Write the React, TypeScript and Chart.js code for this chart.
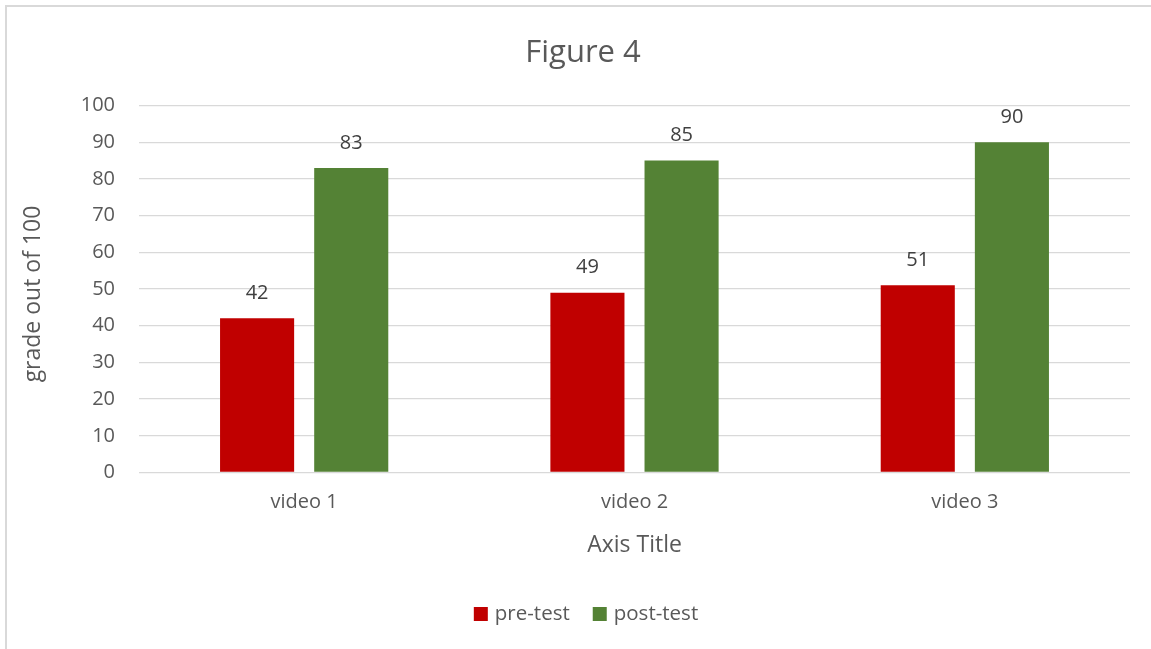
import React, { useEffect, useRef } from "react";
import { Chart, registerables } from "chart.js";

Chart.register(...registerables);

const chartTitle = "Figure 4";
const categories = ["video 1", "video 2", "video 3"];
const seriesNames = ["pre-test", "post-test"];
const preTest = [42, 49, 51];
const postTest = [83, 85, 90];
const seriesColors = ["#C00000", "#548235"];
const yAxisTitle = "grade out of 100";
const xAxisTitle = "Axis Title";
const yMin = 0;
const yMax = 100;
const yStep = 10;

const FONT = "'Open Sans', sans-serif";
const TEXT = "#595959";

const overlayPlugin = {
  id: "overlay",
  afterDraw(chart: any) {
    const ctx = chart.ctx as CanvasRenderingContext2D;
    const area = chart.chartArea;
    ctx.save();
    // data labels
    ctx.font = `20px ${FONT}`;
    ctx.fillStyle = "#404040";
    ctx.textAlign = "center";
    ctx.textBaseline = "middle";
    chart.data.datasets.forEach((ds: any, di: number) => {
      const meta = chart.getDatasetMeta(di);
      meta.data.forEach((bar: any, i: number) => {
        ctx.fillText(String(ds.data[i]), bar.x, bar.y - 25);
      });
    });
    // title
    ctx.fillStyle = TEXT;
    ctx.font = `31px ${FONT}`;
    ctx.textBaseline = "alphabetic";
    ctx.fillText(chartTitle, 583, 62);
    // x axis title
    ctx.font = `23px ${FONT}`;
    ctx.fillText(xAxisTitle, (area.left + area.right) / 2, 551.5);
    // y axis title
    ctx.save();
    ctx.translate(33, (area.top + area.bottom) / 2 + 5);
    ctx.rotate(-Math.PI / 2);
    ctx.textBaseline = "middle";
    ctx.fillText(yAxisTitle, 0, 0);
    ctx.restore();
    // legend
    ctx.font = `20.5px ${FONT}`;
    ctx.textAlign = "left";
    ctx.textBaseline = "middle";
    const box = 14;
    const gapBoxText = 7;
    const gapItems = 23;
    const widths = chart.data.datasets.map((ds: any) => ctx.measureText(ds.label).width);
    let total = 0;
    widths.forEach((w: number, i: number) => {
      total += box + gapBoxText + w + (i < widths.length - 1 ? gapItems : 0);
    });
    let x = 586 - total / 2;
    const cy = 614;
    chart.data.datasets.forEach((ds: any, i: number) => {
      ctx.fillStyle = ds.backgroundColor;
      ctx.fillRect(x, cy - box / 2, box, box);
      x += box + gapBoxText;
      ctx.fillStyle = TEXT;
      ctx.fillText(ds.label, x, cy);
      x += widths[i] + gapItems;
    });
    ctx.restore();
  },
};

export default function App() {
  const ref = useRef<HTMLCanvasElement | null>(null);
  useEffect(() => {
    if (!ref.current) return;
    const chart = new Chart(ref.current, {
      type: "bar",
      data: {
        labels: categories,
        datasets: [
          {
            label: seriesNames[0],
            data: preTest,
            backgroundColor: seriesColors[0],
            categoryPercentage: 0.57,
            barPercentage: 0.787,
          },
          {
            label: seriesNames[1],
            data: postTest,
            backgroundColor: seriesColors[1],
            categoryPercentage: 0.57,
            barPercentage: 0.787,
          },
        ],
      },
      options: {
        responsive: false,
        animation: false,
        devicePixelRatio: 1,
        layout: { padding: { left: 0, right: 21, top: 105.5, bottom: 0 } },
        plugins: {
          legend: { display: false },
          title: { display: false },
          tooltip: { enabled: false },
        },
        scales: {
          x: {
            grid: { display: false, drawTicks: false },
            border: { display: false },
            ticks: { font: { family: FONT, size: 20 }, color: TEXT, padding: 18 },
            afterFit: (scale: any) => {
              scale.height = 176.5;
            },
          },
          y: {
            min: yMin,
            max: yMax,
            grid: { color: "#D9D9D9", lineWidth: 1.3, drawTicks: false },
            border: { display: false },
            ticks: {
              stepSize: yStep,
              font: { family: FONT, size: 20 },
              color: TEXT,
              padding: 24,
            },
            afterFit: (scale: any) => {
              scale.width = 139;
            },
          },
        },
      },
      plugins: [overlayPlugin],
    } as any);
    return () => chart.destroy();
  }, []);

  return (
    <div
      style={{
        position: "fixed",
        left: 0,
        top: 0,
        width: 1151,
        height: 649,
        overflow: "hidden",
        background: "#fff",
      }}
    >
      <div
        style={{
          position: "absolute",
          left: 5,
          top: 5,
          width: 1300,
          height: 800,
          border: "2px solid #D9D9D9",
          boxSizing: "border-box",
        }}
      />
      <canvas
        ref={ref}
        width={1151}
        height={649}
        style={{ position: "absolute", left: 0, top: 0, width: 1151, height: 649 }}
      />
    </div>
  );
}
